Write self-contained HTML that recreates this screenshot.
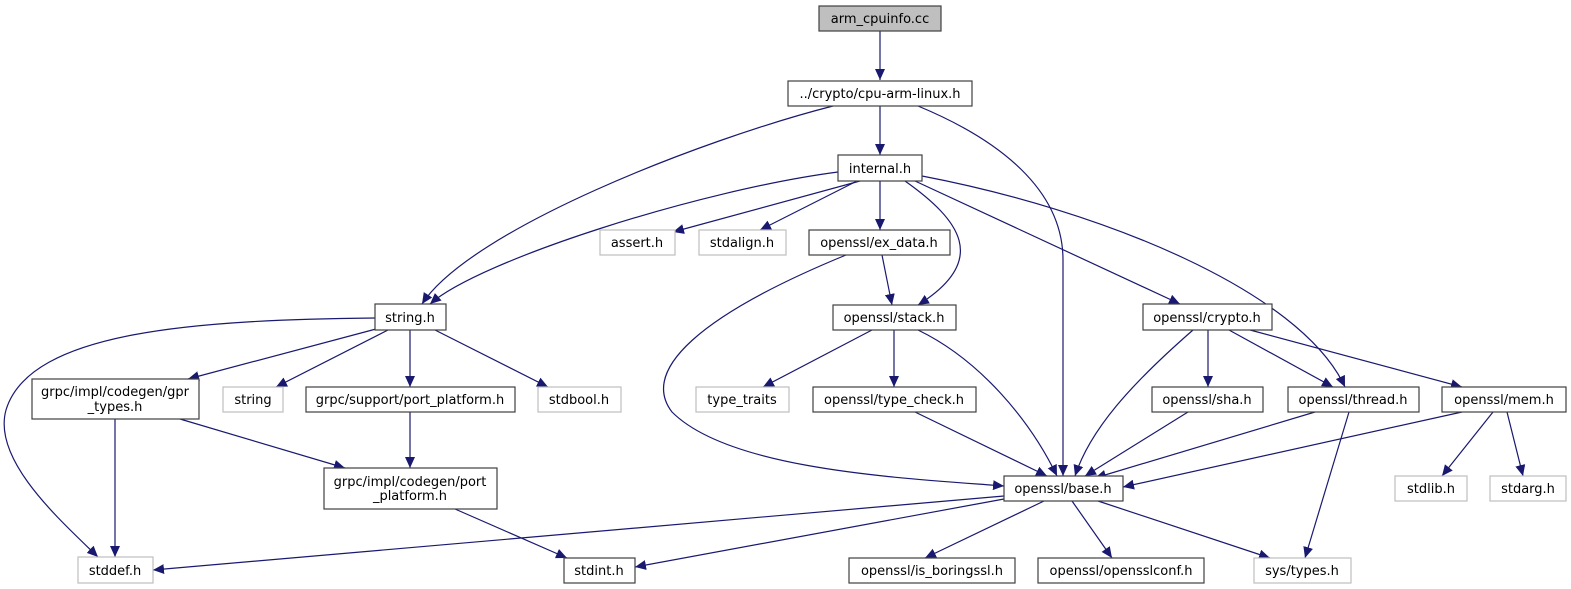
<!DOCTYPE html>
<html><head><meta charset="utf-8"><style>
html,body{margin:0;padding:0;background:#fff;}
svg{display:block;}
text{font-family:"DejaVu Sans","Liberation Sans",sans-serif;font-size:13px;fill:#000;}
</style></head><body>
<svg width="1571" height="589" viewBox="0 0 1571 589" xmlns="http://www.w3.org/2000/svg">
<defs>
<marker id="a" markerUnits="userSpaceOnUse" markerWidth="12" markerHeight="10" refX="11" refY="5" orient="auto">
<path d="M0,0 L11,5 L0,10 Z" fill="#191970"/>
</marker>
</defs>
<g fill="none" stroke="#191970" stroke-width="1.2" marker-end="url(#a)">
<path d="M880,31 L880,80"/>
<path d="M880,106 L880,155"/>
<path d="M833,106 C 700,140 470,230 422,304"/>
<path d="M918,106 C 1000,140 1063,190 1063,260 L1063,476"/>
<path d="M838,172 C 700,190 480,260 430,304"/>
<path d="M860,181 L 673,232"/>
<path d="M857,181 L 760,230"/>
<path d="M880,181 L880,230"/>
<path d="M905,181 C 960,220 990,260 918,305"/>
<path d="M915,181 L 1180,304"/>
<path d="M922,176 C 1100,210 1300,290 1345,387"/>
<path d="M882,255 L 892,305"/>
<path d="M846,255 C 700,315 640,370 672,412 C 730,470 900,478 1004,486"/>
<path d="M872,330 L 763,387"/>
<path d="M894,330 L 894,387"/>
<path d="M918,330 C 980,360 1030,420 1057,476"/>
<path d="M375,318 C 200,320 30,330 6,410 C -8,460 60,520 98,557"/>
<path d="M376,329 L 188,379"/>
<path d="M388,330 L 276,387"/>
<path d="M410,330 L 410,387"/>
<path d="M435,330 L 548,387"/>
<path d="M115,419 L 115,557"/>
<path d="M180,419 L 345,468"/>
<path d="M410,412 L 410,468"/>
<path d="M455,509 L 567,558"/>
<path d="M1004,496 L 153,570"/>
<path d="M1004,499 L 635,567"/>
<path d="M1044,501 L 925,558"/>
<path d="M1072,501 L 1112,558"/>
<path d="M1098,501 L 1270,558"/>
<path d="M915,412 L 1047,476"/>
<path d="M1193,330 C 1130,385 1090,430 1075,476"/>
<path d="M1208,330 L 1208,387"/>
<path d="M1229,330 L 1333,387"/>
<path d="M1250,330 L 1462,387"/>
<path d="M1188,412 L 1085,476"/>
<path d="M1315,412 L 1095,478"/>
<path d="M1349,412 L 1305,558"/>
<path d="M1462,412 L 1123,487"/>
<path d="M1493,412 L 1442,476"/>
<path d="M1507,412 L 1523,476"/>
</g>
<g stroke="#404040" stroke-width="1.2" fill="#fff">
<rect x="819" y="6" width="122" height="25" fill="#bfbfbf"/>
<rect x="788" y="81" width="184" height="25"/>
<rect x="838" y="155" width="84" height="26"/>
<rect x="809" y="230" width="141" height="25"/>
<rect x="375" y="304" width="71" height="26"/>
<rect x="833" y="305" width="123" height="25"/>
<rect x="1143" y="304" width="129" height="26"/>
<rect x="32" y="379" width="167" height="40"/>
<rect x="306" y="387" width="209" height="25"/>
<rect x="813" y="387" width="163" height="25"/>
<rect x="1152" y="387" width="111" height="25"/>
<rect x="1288" y="387" width="131" height="25"/>
<rect x="1442" y="387" width="124" height="25"/>
<rect x="324" y="468" width="173" height="41"/>
<rect x="1004" y="476" width="119" height="25"/>
<rect x="564" y="558" width="71" height="25"/>
<rect x="849" y="558" width="166" height="25"/>
<rect x="1038" y="558" width="166" height="25"/>
</g>
<g stroke="#bfbfbf" stroke-width="1.2" fill="#fff">
<rect x="600" y="230" width="75" height="25"/>
<rect x="699" y="230" width="87" height="25"/>
<rect x="223" y="387" width="60" height="25"/>
<rect x="538" y="387" width="83" height="25"/>
<rect x="696" y="387" width="93" height="25"/>
<rect x="1395" y="476" width="72" height="25"/>
<rect x="1490" y="476" width="76" height="25"/>
<rect x="78" y="557" width="75" height="26"/>
<rect x="1254" y="558" width="97" height="25"/>
</g>
<g text-anchor="middle">
<text x="880" y="23">arm_cpuinfo.cc</text>
<text x="880" y="98">../crypto/cpu-arm-linux.h</text>
<text x="880" y="173">internal.h</text>
<text x="637" y="247">assert.h</text>
<text x="742" y="247">stdalign.h</text>
<text x="879" y="247">openssl/ex_data.h</text>
<text x="410" y="322">string.h</text>
<text x="894" y="322">openssl/stack.h</text>
<text x="1207" y="322">openssl/crypto.h</text>
<text x="115" y="396">grpc/impl/codegen/gpr</text>
<text x="115" y="411">_types.h</text>
<text x="253" y="404">string</text>
<text x="410" y="404">grpc/support/port_platform.h</text>
<text x="579" y="404">stdbool.h</text>
<text x="742" y="404">type_traits</text>
<text x="894" y="404">openssl/type_check.h</text>
<text x="1207" y="404">openssl/sha.h</text>
<text x="1353" y="404">openssl/thread.h</text>
<text x="1504" y="404">openssl/mem.h</text>
<text x="410" y="486">grpc/impl/codegen/port</text>
<text x="410" y="500">_platform.h</text>
<text x="1063" y="493">openssl/base.h</text>
<text x="1431" y="493">stdlib.h</text>
<text x="1528" y="493">stdarg.h</text>
<text x="115" y="575">stddef.h</text>
<text x="599" y="575">stdint.h</text>
<text x="932" y="575">openssl/is_boringssl.h</text>
<text x="1121" y="575">openssl/opensslconf.h</text>
<text x="1302" y="575">sys/types.h</text>
</g>
</svg>
</body></html>
